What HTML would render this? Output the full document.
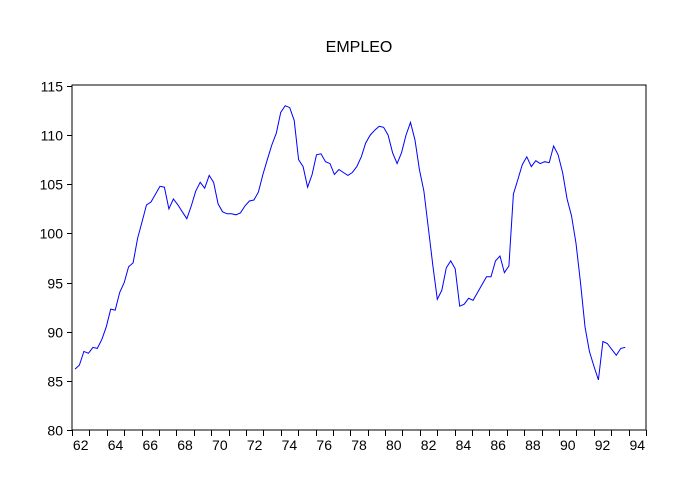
<!DOCTYPE html>
<html><head><meta charset="utf-8"><style>
body{margin:0;background:#fff;}
svg text{font-family:"Liberation Sans",Arial,sans-serif;fill:#000;}
</style></head><body>
<svg id="chart" width="685" height="491" viewBox="0 0 685 491" xmlns="http://www.w3.org/2000/svg">
<rect width="685" height="491" fill="#fff"/>
<text x="359" y="52" font-size="16" text-anchor="middle">EMPLEO</text>
<g id="axes"></g>
<path id="line" fill="none" stroke="#0000ff" stroke-width="1"/>
</svg>
<script>
const startYear = 1962;
const yTicks = [80, 85, 90, 95, 100, 105, 110, 115];
const xTickLabels = ["62","64","66","68","70","72","74","76","78","80","82","84","86","88","90","92","94"];
const values = [
86.2,86.6,88.0,87.8, 88.4,88.3,89.2,90.5, 92.3,92.2,94.0,95.0, 96.6,97.0,99.5,101.2,
102.9,103.2,104.0,104.8, 104.7,102.5,103.5,102.9, 102.2,101.5,102.8,104.3, 105.2,104.6,105.9,105.2,
103.0,102.2,102.0,102.0, 101.9,102.1,102.8,103.3, 103.4,104.2,106.0,107.5, 109.0,110.2,112.3,113.0,
112.8,111.5,107.5,106.8, 104.7,106.0,108.0,108.1, 107.3,107.1,106.0,106.5, 106.2,105.9,106.2,106.8,
107.8,109.2,110.0,110.5, 110.9,110.8,110.0,108.2, 107.1,108.2,110.0,111.3, 109.5,106.5,104.3,100.5,
96.7,93.3,94.2,96.5, 97.2,96.4,92.6,92.8, 93.4,93.2,94.0,94.8, 95.6,95.6,97.2,97.7,
96.0,96.7,104.0,105.5, 107.0,107.8,106.8,107.4, 107.1,107.3,107.2,108.9, 108.0,106.2,103.5,101.8,
99.0,95.0,90.5,88.0, 86.5,85.1,89.0,88.8, 88.2,87.6,88.3,88.4
];
const L=72,R=646,T=85,B=430;
const yMin=80,yMax=115,x0=1962,x1=1995;
const step=0.2572;
function sx(t){return L+(t-x0)/(x1-x0)*(R-L);}
function sy(v){return B-(v-yMin)/(yMax-yMin)*(B-T-1);}
const NS="http://www.w3.org/2000/svg";
const axes=document.getElementById('axes');
function mk(tag,attrs){const e=document.createElementNS(NS,tag);for(const k in attrs)e.setAttribute(k,attrs[k]);axes.appendChild(e);return e;}
const frame=mk('rect',{x:L,y:T,width:R-L,height:B-T,fill:'none',stroke:'#000','stroke-width':1});


yTicks.forEach(v=>{
  const y=Math.round(sy(v))+0.5;
  const tk=mk('line',{x1:L-5,x2:L,y1:y,y2:y,stroke:'#000'});
  
  
  const tx=mk('text',{x:L-9,y:y+5,'font-size':14,'text-anchor':'end'});
  tx.textContent=v;
  
  
});
for(let yr=x0;yr<=x1;yr++){
  const x=Math.round(sx(yr))+0.5;
  const tk=mk('line',{x1:x,x2:x,y1:B,y2:B+6,stroke:'#000'});
  
  
}
xTickLabels.forEach((lab,i)=>{
  const yr=x0+i*2;
  const x=sx(yr+0.5);
  const tx=mk('text',{x:x,y:B+20,'font-size':14,'text-anchor':'middle'});
  tx.textContent=lab;
  
  
});
let d='';
values.forEach((v,i)=>{
  const t=startYear+0.17+i*step;
  d+=(i?'L':'M')+sx(t).toFixed(1)+' '+sy(v).toFixed(1);
});
document.getElementById('line').setAttribute('d',d);
</script>
</body></html>
